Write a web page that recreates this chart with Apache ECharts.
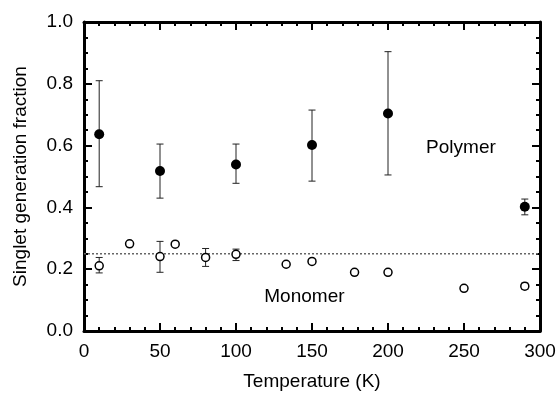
<!DOCTYPE html>
<html>
<head>
<meta charset="utf-8">
<script src="https://cdn.jsdelivr.net/npm/echarts@6/dist/echarts.min.js"></script>
<style>
  html, body { margin: 0; padding: 0; background: #fff; }
  #chart { width: 558px; height: 394px; }
</style>
</head>
<body>
<div id="chart"></div>
<script>
// polymer: temperature, value and error bar ends
var polymerT = [10, 50, 100, 150, 200, 290]
var polymerVal = [0.637, 0.518, 0.539, 0.602, 0.704, 0.402]
var polymerLow = [0.467, 0.430, 0.478, 0.485, 0.505, 0.376]
var polymerHigh = [0.810, 0.605, 0.605, 0.715, 0.904, 0.427]

var monomerT = [10, 30, 50, 60, 80, 100, 133, 150, 178, 200, 250, 290]
var monomerVal = [0.211, 0.282, 0.241, 0.281, 0.238, 0.248, 0.216, 0.225, 0.190, 0.190, 0.138, 0.145]
var monomerLow = [0.188, null, 0.190, null, 0.209, 0.228, null, null, null, null, null, 0.135]
var monomerHigh = [0.238, null, 0.290, null, 0.267, 0.265, null, null, null, null, null, 0.155]

var spinLimit = 0.25

var FONT = 'Liberation Sans, Arial, sans-serif'
var FS = 19

function points (ts, vals) {
  return ts.map((t, i) => [t, vals[i]])
}
function bars (ts, lows, highs) {
  var out = []
  ts.forEach((t, i) => {
    if (lows[i] != null) out.push([t, lows[i], highs[i]])
  })
  return out
}

function errorItem (params, api) {
  var x = api.value(0)
  var lo = api.coord([x, api.value(1)])
  var hi = api.coord([x, api.value(2)])
  var cap = 3.5
  var style = { stroke: '#222', lineWidth: 1 }
  return {
    type: 'group',
    children: [
      { type: 'line', shape: { x1: lo[0], y1: lo[1], x2: hi[0], y2: hi[1] }, style: style },
      { type: 'line', shape: { x1: lo[0] - cap, y1: lo[1], x2: lo[0] + cap, y2: lo[1] }, style: style },
      { type: 'line', shape: { x1: hi[0] - cap, y1: hi[1], x2: hi[0] + cap, y2: hi[1] }, style: style }
    ]
  }
}

var tickStyle = { color: '#000', width: 2 }
var axisBase = {
  min: 0,
  axisLine: { show: true, onZero: false, lineStyle: { color: '#000', width: 3 } },
  splitLine: { show: false },
  axisTick: { inside: true, length: 8, lineStyle: tickStyle }
}

var chart = echarts.init(document.getElementById('chart'))
chart.setOption({
  animation: false,
  backgroundColor: '#fff',
  grid: { left: 84, right: 18, top: 22, bottom: 63, containLabel: false, outerBoundsMode: 'none' },
  xAxis: [
    Object.assign({}, axisBase, {
      type: 'value', max: 300, interval: 50, position: 'bottom',
      name: 'Temperature (K)', nameLocation: 'middle', nameGap: 41,
      nameTextStyle: { fontFamily: FONT, fontSize: FS, color: '#000' },
      minorTick: { show: true, splitNumber: 5, length: 4, lineStyle: tickStyle },
      axisLabel: { fontFamily: FONT, fontSize: FS, color: '#000', margin: 11 }
    }),
    Object.assign({}, axisBase, {
      type: 'value', max: 300, interval: 50, position: 'top',
      minorTick: { show: true, splitNumber: 5, length: 4, lineStyle: tickStyle },
      axisLabel: { show: false }
    })
  ],
  yAxis: [
    Object.assign({}, axisBase, {
      type: 'value', max: 1, interval: 0.2, position: 'left',
      name: 'Singlet generation fraction', nameLocation: 'middle', nameGap: 54,
      nameTextStyle: { fontFamily: FONT, fontSize: FS, color: '#000' },
      minorTick: { show: true, splitNumber: 4, length: 4, lineStyle: tickStyle },
      axisLabel: { fontFamily: FONT, fontSize: FS, color: '#000', margin: 11,
        formatter: v => v.toFixed(1) }
    }),
    Object.assign({}, axisBase, {
      type: 'value', max: 1, interval: 0.2, position: 'right',
      minorTick: { show: true, splitNumber: 4, length: 4, lineStyle: tickStyle },
      axisLabel: { show: false }
    })
  ],
  series: [
    {
      type: 'line',
      data: [[0, spinLimit], [300, spinLimit]],
      symbol: 'none',
      lineStyle: { color: '#666', width: 1.5, type: [2, 2] },
      silent: true,
      z: 1
    },
    {
      type: 'custom',
      renderItem: errorItem,
      data: bars(polymerT, polymerLow, polymerHigh),
      encode: { x: 0, y: [1, 2] },
      z: 2
    },
    {
      type: 'custom',
      renderItem: errorItem,
      data: bars(monomerT, monomerLow, monomerHigh),
      encode: { x: 0, y: [1, 2] },
      z: 2
    },
    {
      name: 'Polymer',
      type: 'scatter',
      data: points(polymerT, polymerVal),
      symbol: 'circle',
      symbolSize: 10,
      itemStyle: { color: '#000', opacity: 1 },
      z: 3
    },
    {
      name: 'Monomer',
      type: 'scatter',
      data: points(monomerT, monomerVal),
      symbol: 'circle',
      symbolSize: 8,
      itemStyle: { color: '#fff', borderColor: '#000', borderWidth: 1.5, opacity: 1 },
      z: 3
    },
    {
      type: 'scatter',
      symbolSize: 0,
      silent: true,
      itemStyle: { opacity: 1 },
      data: [
        { value: [248, 0.592], label: { formatter: 'Polymer' } },
        { value: [145, 0.11], label: { formatter: 'Monomer' } }
      ],
      label: { show: true, position: 'inside', fontFamily: FONT, fontSize: FS, color: '#000' }
    }
  ]
})
</script>
</body>
</html>
